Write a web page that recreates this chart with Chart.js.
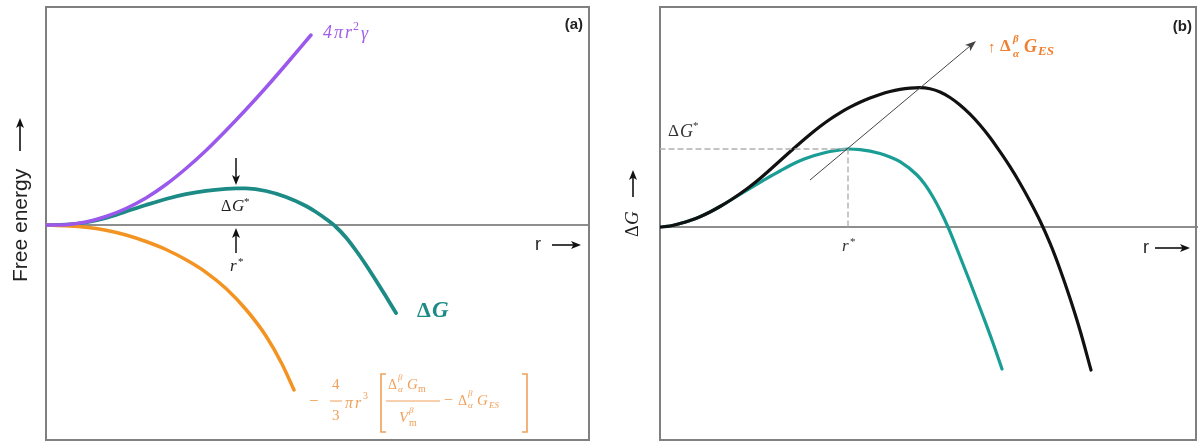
<!DOCTYPE html>
<html><head><meta charset="utf-8">
<script src="https://cdn.jsdelivr.net/npm/chart.js@4.4.0/dist/chart.umd.min.js"></script>
<style>
html,body{margin:0;padding:0;background:#fff;overflow:hidden;}
#wrap{position:relative;width:1198px;height:441px;background:#fff;}
canvas{position:absolute;top:0;}
#ca{left:0;} #cb{left:600px;}
</style></head><body>
<div id="wrap"><canvas id="ca" width="600" height="441"></canvas><canvas id="cb" width="598" height="441"></canvas></div>
<script>
// ---------- Panel (a): free-energy contributions vs nucleus radius r ----------
const aSurfaceR = [0,2,4,6,8,10,12,14,16,18,20,22,24,26.5];
const aSurfaceG = [0,0.03,0.3,0.85,1.65,2.7,4.05,5.65,7.45,9.45,11.55,13.75,16.05,19.0];
const aBulkR    = [0,2,4,6,8,10,12,14,16,18,20,22,23.6,24.8];
const aBulkG    = [0,-0.08,-0.22,-0.52,-1.0,-1.65,-2.45,-3.48,-4.73,-6.35,-8.45,-11.1,-13.9,-16.5];
const aTotalR   = [0,2,4,6,8,10,12,14,16,18,19,20,22,24,26,27,28,29,30,31,32,33,34,35];
const aTotalG   = [0,0.04,0.25,0.7,1.35,2.0,2.6,3.08,3.42,3.62,3.67,3.66,3.4,2.8,1.9,1.3,0.6,-0.2,-1.25,-2.55,-4.0,-5.55,-7.15,-8.8];
const aCritical = [19.0, 3.7];            // r*, ΔG*
// ---------- Panel (b): ΔG for two electrostatic contributions ----------
const bBaseR = [0,1,2,3,4,5,6,7,8,9,10,11,12,13,14,15,16,17,18,18.8,20,22,23,24,25.7,26.5,27.3,28,28.8,29.7,31,32.3,33.3,34.2];
const bBaseG = [0,0.1,0.35,0.65,1.03,1.5,2.05,2.65,3.25,3.85,4.45,5.05,5.6,6.15,6.62,7.0,7.3,7.55,7.72,7.8,7.74,7.35,7.0,6.53,5.2,4.25,3.0,1.7,0,-2.2,-5.5,-8.9,-11.6,-14.2];
const bHighR = [0,1,2,3,4,5,6,7,8,9,10,11,12,13,14,15,16,17,18,19,20,21,22,23,24,25,26,27,28,29,30,31,32,33,34,35,36,37,38,39,40,41,42,43.1];
const bHighG = [0,0.1,0.35,0.65,1.03,1.5,2.05,2.65,3.32,4.05,4.85,5.72,6.62,7.52,8.4,9.25,10.05,10.78,11.42,11.98,12.47,12.9,13.26,13.55,13.76,13.89,13.93,13.82,13.5,12.95,12.2,11.28,10.2,8.95,7.53,6.03,4.38,2.58,0.63,-1.62,-4.22,-7.12,-10.32,-14.3];
const bCritical = [18.8, 7.8];            // r*, ΔG*
const bTrendR = [15, 31.6];
const bTrendG = [4.7, 18.6];

const SERIF = '"Liberation Serif","DejaVu Serif",serif';
const SANS = '"Liberation Sans",Arial,sans-serif';
const C_PURPLE = '#9a58ec', C_TEAL_A = '#1d8b85', C_TEAL_B = '#1a9d95', C_ORANGE = '#f39321',
      C_ORANGE_T = '#f0a05a', C_FRAME = '#808080';

function pts(xs, ys){ return xs.map((x,i)=>({x:x, y:ys[i]})); }
function line(xs, ys, color, w, extra){
  return Object.assign({data: pts(xs,ys), borderColor: color, borderWidth: w, pointRadius: 0,
    fill: false, cubicInterpolationMode: 'monotone', borderCapStyle: 'round', borderJoinStyle:'round'}, extra||{});
}
function arrow(ctx,x1,y1,x2,y2,color,lw,hl,hw){
  const a=Math.atan2(y2-y1,x2-x1), c=Math.cos(a), s=Math.sin(a);
  ctx.save(); ctx.strokeStyle=color; ctx.fillStyle=color; ctx.lineWidth=lw;
  ctx.beginPath(); ctx.moveTo(x1,y1); ctx.lineTo(x2-c*hl*0.7,y2-s*hl*0.7); ctx.stroke();
  ctx.beginPath(); ctx.moveTo(x2,y2);
  ctx.lineTo(x2-c*hl+s*hw/2, y2-s*hl-c*hw/2);
  ctx.lineTo(x2-c*hl*0.75, y2-s*hl*0.75);
  ctx.lineTo(x2-c*hl-s*hw/2, y2-s*hl+c*hw/2);
  ctx.closePath(); ctx.fill(); ctx.restore();
}
function runs(ctx,x,y,list,color){
  ctx.save(); ctx.fillStyle=color; ctx.textBaseline='middle'; ctx.textAlign='left';
  for(const r of list){ ctx.font=(r.s||'')+' '+r.z+'px '+(r.f||SERIF); ctx.fillText(r.t,x+r.dx,y+r.dy); }
  ctx.restore();
}
function hbar(ctx,x1,x2,y,color,lw){ ctx.save(); ctx.strokeStyle=color; ctx.lineWidth=lw; ctx.beginPath(); ctx.moveTo(x1,y); ctx.lineTo(x2,y); ctx.stroke(); ctx.restore(); }
function bracket(ctx,x,y1,y2,dir,color,lw){
  ctx.save(); ctx.strokeStyle=color; ctx.lineWidth=lw; ctx.beginPath();
  ctx.moveTo(x+dir*5,y1); ctx.lineTo(x,y1); ctx.lineTo(x,y2); ctx.lineTo(x+dir*5,y2); ctx.stroke(); ctx.restore();
}
function frameAndZero(chart, ext){
  const {ctx, chartArea:ca, scales} = chart;
  const y0 = scales.y.getPixelForValue(0);
  ctx.save();
  ctx.strokeStyle='#8e8e8e'; ctx.lineWidth=2;
  ctx.beginPath(); ctx.moveTo(ca.left,y0); ctx.lineTo(ca.right+ext,y0); ctx.stroke();
  ctx.strokeStyle=C_FRAME; ctx.lineWidth=2;
  ctx.strokeRect(ca.left,ca.top,ca.right-ca.left,ca.bottom-ca.top);
  ctx.restore();
}
function baseOptions(pad, xmin, xmax, ymin, ymax){
  return {responsive:false, animation:false, events:[], devicePixelRatio:1,
    layout:{padding:pad},
    plugins:{legend:{display:false}, tooltip:{enabled:false}},
    scales:{x:{type:'linear',min:xmin,max:xmax,display:false}, y:{type:'linear',min:ymin,max:ymax,display:false}}};
}

// ---------- Chart (a) ----------
new Chart(document.getElementById('ca'), {
  type:'line',
  data:{datasets:[
    line(aSurfaceR, aSurfaceG, C_PURPLE, 3.5),
    line(aBulkR, aBulkG, C_ORANGE, 3.5),
    line(aTotalR, aTotalG, C_TEAL_A, 3.8)
  ]},
  options: baseOptions({left:46,right:11,top:7,bottom:1}, 0, 54.3, -21.5, 21.8),
  plugins:[{id:'decoA',
    beforeDatasetsDraw(chart){ frameAndZero(chart, 0); },
    afterDatasetsDraw(chart){
      const {ctx, scales} = chart; const X=v=>scales.x.getPixelForValue(v), Y=v=>scales.y.getPixelForValue(v);
      const xs = X(aCritical[0]);
      arrow(ctx, xs, Y(aCritical[1]+3.0), xs, Y(aCritical[1]+0.3), '#111', 1.5, 10, 8);
      arrow(ctx, xs, Y(-2.8), xs, Y(-0.3), '#111', 1.5, 10, 8);
      runs(ctx, xs-15, Y(1.8), [{t:'Δ',dx:0,dy:0,z:16},{t:'G',dx:11,dy:0,z:17,s:'italic'},{t:'*',dx:23,dy:-5,z:11}], '#222');
      runs(ctx, xs-6, Y(-4.2), [{t:'r',dx:0,dy:0,z:17,s:'italic'},{t:'*',dx:8,dy:-5,z:11}], '#222');
      // 4πr²γ
      runs(ctx, X(27.7), Y(19.2), [{t:'4',dx:0,dy:0,z:18,s:'italic'},{t:'π',dx:11,dy:0,z:18,s:'italic'},{t:'r',dx:22,dy:0,z:18,s:'italic'},
        {t:'2',dx:30,dy:-6,z:12},{t:'γ',dx:38,dy:1,z:18,s:'italic'}], '#a25ee8');
      // ΔG label
      runs(ctx, X(37.1), Y(-8.6), [{t:'Δ',dx:0,dy:0,z:22,s:'bold'},{t:'G',dx:15,dy:0,z:23,s:'bold italic'}], C_TEAL_A);
      // r →
      runs(ctx, X(48.9), Y(-2.0), [{t:'r',dx:0,dy:0,z:18,f:SANS}], '#222');
      arrow(ctx, X(50.6), Y(-2.0), X(53.5), Y(-2.0), '#111', 1.6, 10, 8);
      // (a)
      ctx.save(); ctx.font='bold 15px '+SANS; ctx.fillStyle='#222'; ctx.textAlign='right'; ctx.textBaseline='middle';
      ctx.fillText('(a)', X(53.7), Y(20.0)); ctx.restore();
      // formula
      const fx = X(25.7), fy = Y(-17.7), oc = C_ORANGE_T;
      runs(ctx, fx, fy, [
        {t:'−',dx:6,dy:0,z:17},
        {t:'4',dx:29,dy:-17,z:15},{t:'3',dx:29,dy:14,z:15},
        {t:'π',dx:42,dy:2,z:16,s:'italic'},{t:'r',dx:52,dy:2,z:16,s:'italic'},{t:'3',dx:60,dy:-6,z:10},
        {t:'Δ',dx:85,dy:-17,z:14},{t:'β',dx:95,dy:-24,z:9,s:'italic'},{t:'α',dx:95,dy:-12,z:9,s:'italic'},
        {t:'G',dx:104,dy:-17,z:15,s:'italic'},{t:'m',dx:115,dy:-13,z:10},
        {t:'V',dx:96,dy:16,z:15,s:'italic'},{t:'β',dx:106,dy:9,z:9,s:'italic'},{t:'m',dx:106,dy:21,z:10},
        {t:'−',dx:141,dy:-1,z:16},
        {t:'Δ',dx:155,dy:-1,z:14},{t:'β',dx:165,dy:-8,z:9,s:'italic'},{t:'α',dx:165,dy:4,z:9,s:'italic'},
        {t:'G',dx:174,dy:-1,z:15,s:'italic'},{t:'ES',dx:186,dy:4,z:9,s:'italic'}
      ], oc);
      hbar(ctx, fx+27, fx+39, fy-1, oc, 1);
      hbar(ctx, fx+83, fx+137, fy-1, oc, 1);
      bracket(ctx, fx+78, fy-28, fy+30, 1, oc, 1.6);
      bracket(ctx, fx+224, fy-28, fy+30, -1, oc, 1.6);
      // y title
      ctx.save(); ctx.translate(20, 222); ctx.rotate(-Math.PI/2);
      ctx.font='21px '+SANS; ctx.fillStyle='#222'; ctx.textBaseline='middle'; ctx.textAlign='left';
      ctx.fillText('Free energy', -60, 1); ctx.restore();
      arrow(ctx, 20, 151, 20, 118, '#111', 1.6, 10, 8);
    }}]
});

// ---------- Chart (b) ----------
new Chart(document.getElementById('cb'), {
  type:'line',
  data:{datasets:[
    line([0, bCritical[0]], [bCritical[1], bCritical[1]], '#b0b0b0', 1.4, {borderDash:[5,4], cubicInterpolationMode:'default', tension:0}),
    line([bCritical[0], bCritical[0]], [bCritical[1], 0], '#b0b0b0', 1.4, {borderDash:[5,4], cubicInterpolationMode:'default', tension:0}),
    line(bHighR, bHighG, '#111111', 3.2),
    line(bBaseR, bBaseG, C_TEAL_B, 3.2)
  ]},
  options: baseOptions({left:60,right:2,top:7,bottom:1}, 0, 53.6, -21.3, 22.0),
  plugins:[{id:'decoB',
    beforeDatasetsDraw(chart){ frameAndZero(chart, 10); },
    afterDatasetsDraw(chart){
      const {ctx, scales} = chart; const X=v=>scales.x.getPixelForValue(v), Y=v=>scales.y.getPixelForValue(v);
      arrow(ctx, X(bTrendR[0]), Y(bTrendG[0]), X(bTrendR[1]), Y(bTrendG[1]), '#444', 1, 11, 8);
      runs(ctx, X(0.8), Y(9.5), [{t:'Δ',dx:0,dy:0,z:17},{t:'G',dx:12,dy:0,z:18,s:'italic'},{t:'*',dx:25,dy:-6,z:11}], '#333');
      runs(ctx, X(bCritical[0])-6, Y(-2.0), [{t:'r',dx:0,dy:0,z:17,s:'italic'},{t:'*',dx:8,dy:-5,z:11}], '#333');
      runs(ctx, X(48.3), Y(-2.1), [{t:'r',dx:0,dy:0,z:18,f:SANS}], '#222');
      arrow(ctx, X(49.5), Y(-2.1), X(53.0), Y(-2.1), '#111', 1.6, 10, 8);
      ctx.save(); ctx.font='bold 15px '+SANS; ctx.fillStyle='#222'; ctx.textAlign='right'; ctx.textBaseline='middle';
      ctx.fillText('(b)', X(53.2), Y(20.0)); ctx.restore();
      runs(ctx, X(32.8), Y(17.9), [{t:'↑',dx:0,dy:0,z:15,s:'bold'},{t:'Δ',dx:12,dy:-1,z:17,s:'bold'},{t:'β',dx:25,dy:-9,z:11,s:'bold italic'},
        {t:'α',dx:25,dy:6,z:11,s:'bold italic'},{t:'G',dx:36,dy:-1,z:18,s:'bold italic'},{t:'ES',dx:50,dy:4,z:13,s:'bold italic'}], '#f08030');
      // y title ΔG →
      ctx.save(); ctx.translate(X(0)-27, 204); ctx.rotate(-Math.PI/2);
      ctx.fillStyle='#222'; ctx.textBaseline='middle'; ctx.textAlign='left';
      ctx.font='18px '+SERIF; ctx.fillText('Δ', -33, 0);
      ctx.font='italic 19px '+SERIF; ctx.fillText('G', -21, 0);
      ctx.restore();
      arrow(ctx, X(0)-27, 197, X(0)-27, 170, '#111', 1.6, 10, 8);
    }}]
});
</script></body></html>
